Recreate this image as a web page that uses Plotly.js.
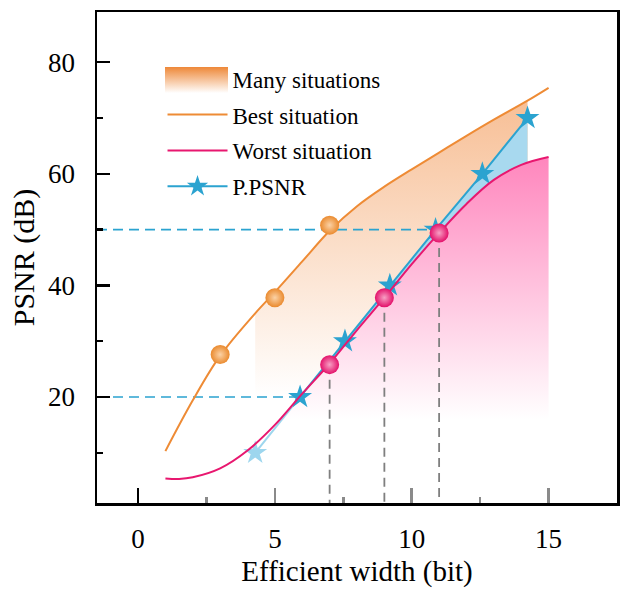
<!DOCTYPE html>
<html>
<head>
<meta charset="utf-8">
<script src="https://cdn.plot.ly/plotly-3.0.1.min.js"></script>
<style>html,body{margin:0;padding:0;background:#fff;}#chart{width:624px;height:591px;}</style>
</head>
<body>
<div id="chart"></div>
<script>
// ---- data ----
const bestX  = [1, 2, 3, 4.28, 5, 6, 7, 8, 9, 10, 11, 12, 13, 14.23, 15];
const bestY  = [10.3, 19.4, 27.4, 35.0, 38.8, 44.3, 49.8, 54.2, 57.7, 60.8, 63.8, 66.8, 69.7, 73.1, 75.4];
const worstX = [1, 1.5, 2, 3, 4, 5, 6, 7, 8, 9, 10, 11, 12, 13, 14, 15];
const worstY = [5.4, 5.3, 5.6, 7.2, 10.4, 15.0, 20.6, 26.0, 32.0, 37.8, 43.8, 49.4, 54.6, 58.9, 61.6, 63.0];
const starX  = [4.28, 5.92, 7.56, 9.2, 10.87, 12.58, 14.23];
const starY  = [10, 20, 30, 40, 50, 60, 70];
const bestPtX  = [3, 5, 7];
const bestPtY  = [27.6, 37.8, 50.8];
const worstPtX = [7, 9, 11];
const worstPtY = [25.8, 37.8, 49.4];
const xTicks = [0, 5, 10, 15];
const yTicks = [20, 40, 60, 80];
const yMinor = [10, 30, 50, 70];
const xGrayTicks = [5, 10, 15];
const xGrayMinor = [2.5, 7.5, 12.5];
const legendNames = ['Many situations', 'Best situation', 'Worst situation', 'P.PSNR'];

const xRange = [-1.5, 17.5];
const yRange = [1, 89];

const ORANGE = '#EE8B35', PINK = '#E8176F', BLUE = '#2BA3D0', LIGHTBLUE = '#9DD6EE';
const SERIF = 'Liberation Serif, Times New Roman, serif';

function sliceRange(xs, ys, lo, hi) {
  const ox = [], oy = [];
  xs.forEach((v, i) => { if (v >= lo - 1e-9 && v <= hi + 1e-9) { ox.push(v); oy.push(ys[i]); } });
  return [ox, oy];
}
const [ofX, ofY] = sliceRange(bestX, bestY, starX[0], starX[starX.length - 1]);
const [pfX, pfY] = sliceRange(worstX, worstY, 5, worstX[worstX.length - 1]);
const bfX = starX.slice(1), bfY = starY.slice(1);

const traces = [];
// orange gradient fill (Many situations)
traces.push({x: ofX, y: ofY, mode: 'lines', line: {width: 0, shape: 'spline'}, fill: 'tozeroy',
  fillgradient: {type: 'vertical', start: 20, stop: 74, colorscale: [[0, '#FFFFFF'], [1, '#F7BE94']]},
  hoverinfo: 'skip', showlegend: false});
// blue fill between P.PSNR and worst
traces.push({x: bfX, y: bfY, mode: 'lines', line: {width: 0}, fill: 'tozeroy', fillcolor: '#A8D9EF',
  hoverinfo: 'skip', showlegend: false});
// pink gradient fill under worst curve
traces.push({x: pfX, y: pfY, mode: 'lines', line: {width: 0, shape: 'spline'}, fill: 'tozeroy',
  fillgradient: {type: 'vertical', start: 16, stop: 63, colorscale: [[0, '#FFFFFF'], [1, '#FF86BD']]},
  hoverinfo: 'skip', showlegend: false});
// blue dashed reference lines
[1, 4].forEach(i => traces.push({x: [xRange[0], starX[i]], y: [starY[i], starY[i]], mode: 'lines',
  line: {color: BLUE, width: 1.6, dash: '10px,6px'}, hoverinfo: 'skip', showlegend: false}));
// gray dashed verticals
worstPtX.forEach((v, i) => traces.push({x: [v, v], y: [worstPtY[i], yRange[0]], mode: 'lines',
  line: {color: '#7F7F7F', width: 1.8, dash: '9px,6px'}, hoverinfo: 'skip', showlegend: false}));
// light segment of P.PSNR
traces.push({x: starX.slice(0, 2), y: starY.slice(0, 2), mode: 'lines', line: {color: LIGHTBLUE, width: 2},
  hoverinfo: 'skip', showlegend: false});
traces.push({x: starX.slice(0, 1), y: starY.slice(0, 1), mode: 'markers',
  marker: {symbol: 'star', size: 18, color: LIGHTBLUE}, hoverinfo: 'skip', showlegend: false});
// legend dummy for Many situations
traces.push({x: [null], y: [null], mode: 'lines', line: {width: 0, color: 'rgba(0,0,0,0)'}, name: legendNames[0],
  legendgroup: 'g1', legendrank: 1});
// P.PSNR
traces.push({x: starX.slice(1), y: starY.slice(1), mode: 'lines+markers', name: legendNames[3],
  line: {color: BLUE, width: 2}, marker: {symbol: 'star', size: 18, color: BLUE}, legendgroup: 'g4', legendrank: 4});
// Worst
traces.push({x: worstX, y: worstY, mode: 'lines', name: legendNames[2], line: {color: PINK, width: 2, shape: 'spline'},
  legendgroup: 'g3', legendrank: 3});
// Best
traces.push({x: bestX, y: bestY, mode: 'lines', name: legendNames[1], line: {color: ORANGE, width: 2, shape: 'spline'},
  legendgroup: 'g2', legendrank: 2});
// balls
traces.push({x: worstPtX, y: worstPtY, mode: 'markers', marker: {size: 19, color: '#E3106A',
  gradient: {type: 'radial', color: '#F7A0C4'}}, hoverinfo: 'skip', showlegend: false});
traces.push({x: bestPtX, y: bestPtY, mode: 'markers', marker: {size: 19, color: '#EA8A2E',
  gradient: {type: 'radial', color: '#FBD2A6'}}, hoverinfo: 'skip', showlegend: false});
// carrier trace for gray overlay axis
traces.push({x: [null], y: [null], xaxis: 'x2', showlegend: false, hoverinfo: 'skip'});

const gradSvg = "<svg xmlns='http://www.w3.org/2000/svg' width='64' height='26'><defs><linearGradient id='g' x1='0' y1='0' x2='0' y2='1'><stop offset='0' stop-color='#EE8838'/><stop offset='1' stop-color='#FFFFFF'/></linearGradient></defs><rect width='64' height='26' fill='url(#g)'/></svg>";

const layout = {
  width: 624, height: 591,
  margin: {l: 97, r: 7, t: 12, b: 88},
  paper_bgcolor: '#fff', plot_bgcolor: 'rgba(0,0,0,0)',
  font: {family: SERIF, color: '#000'},
  showlegend: true,
  legend: {x: 0.126, y: 0.908, xanchor: 'left', yanchor: 'top', bgcolor: 'rgba(0,0,0,0)',
    font: {family: SERIF, size: 23, color: '#000'}, itemwidth: 60, traceorder: 'grouped', tracegroupgap: 3},
  xaxis: {range: xRange, tickvals: xTicks, ticks: 'inside', ticklen: 15, tickwidth: 2.5, tickcolor: '#000',
    showline: true, linewidth: 2.5, linecolor: '#000', mirror: true, showgrid: false, zeroline: false,
    tickfont: {family: SERIF, size: 27}, ticklabelstandoff: 10,
    title: {text: 'Efficient width (bit)', font: {family: SERIF, size: 29}, standoff: 8}},
  xaxis2: {range: xRange, overlaying: 'x', anchor: 'y', side: 'bottom', tickvals: xGrayTicks, ticks: 'inside',
    ticklen: 15, tickwidth: 2.5, tickcolor: '#8A8A8A', showticklabels: false, showline: false, showgrid: false,
    zeroline: false, minor: {tickvals: xGrayMinor, ticks: 'inside', ticklen: 6, tickwidth: 2.5, tickcolor: '#8A8A8A'}},
  yaxis: {range: yRange, tickvals: yTicks, ticks: 'inside', ticklen: 13, tickwidth: 2.5, tickcolor: '#000',
    minor: {tickvals: yMinor, ticks: 'inside', ticklen: 6, tickwidth: 2.5, tickcolor: '#000'},
    showline: true, linewidth: 2.5, linecolor: '#000', mirror: true, showgrid: false, zeroline: false,
    tickfont: {family: SERIF, size: 27}, ticklabelstandoff: 14,
    title: {text: 'PSNR (dB)', font: {family: SERIF, size: 30}, standoff: 5}},
  images: [{source: 'data:image/svg+xml;utf8,' + encodeURIComponent(gradSvg), xref: 'paper', yref: 'paper',
    x: (165 - 97) / 520, y: (503 - 67) / 491, sizex: 63 / 520, sizey: 26 / 491, xanchor: 'left', yanchor: 'top',
    sizing: 'stretch', layer: 'above'}]
};

Plotly.newPlot('chart', traces, layout, {displayModeBar: false, staticPlot: true});
</script>
</body>
</html>
